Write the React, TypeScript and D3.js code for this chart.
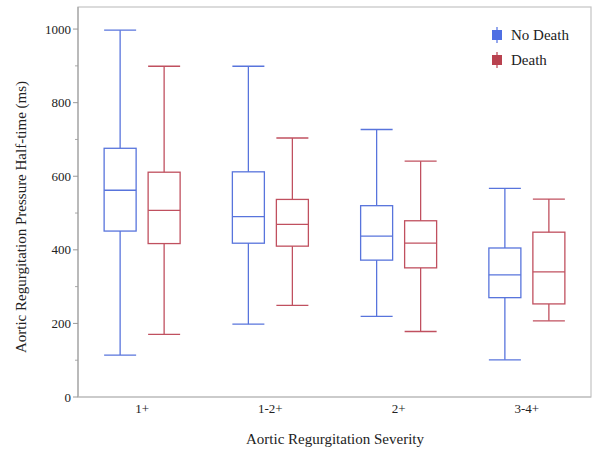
import React from "react";
import * as d3 from "d3";

const categories = ["1+", "1-2+", "2+", "3-4+"];
const seriesNames = ["No Death", "Death"];
// [min, q1, median, q3, max]
const noDeath = [
  [114, 451, 562, 676, 997],
  [198, 418, 490, 612, 899],
  [219, 372, 437, 520, 727],
  [101, 270, 332, 405, 567],
];
const death = [
  [170, 417, 507, 611, 899],
  [249, 410, 469, 537, 704],
  [178, 351, 418, 479, 641],
  [207, 253, 340, 448, 538],
];
const yTicks = [0, 200, 400, 600, 800, 1000];
const yMinorTicks = [100, 300, 500, 700, 900];

const colors = ["#5874dc", "#c0505f"];
const legendFill = ["#4f6fe3", "#b9424f"];

export default function App() {
  const W = 593, H = 455;
  const left = 78, right = 591, top = 7, bottom = 397;
  const x = d3.scaleBand().domain(categories).range([left, right]);
  const y = d3.scaleLinear().domain([0, 1060]).range([bottom, top]);
  const boxW = 32;
  const offset = 22;
  const font = "'Liberation Serif', 'DejaVu Serif', 'Times New Roman', Times, serif";
  const data = [noDeath, death];
  const ts = { fontFamily: font };

  return (
    <svg width={W} height={H} style={{ position: "absolute", left: 0, top: 0, background: "#fff", fontFamily: font }}>
      <rect x={left} y={top} width={right - left} height={bottom - top} fill="none" stroke="#c4c4c4" strokeWidth={1.2} />
      {yTicks.map((t) => (
        <g key={t}>
          <line x1={left - 5} x2={left} y1={y(t)} y2={y(t)} stroke="#999" />
          <text x={left - 7} y={y(t)} dy="0.35em" textAnchor="end" style={ts} fontSize={13} fill="#222">{t}</text>
        </g>
      ))}
      {yMinorTicks.map((t) => (
        <line key={t} x1={left - 3} x2={left} y1={y(t)} y2={y(t)} stroke="#aaa" />
      ))}
      <line x1={left} x2={left} y1={top} y2={bottom} stroke="#999" />
      <line x1={left} x2={right} y1={bottom} y2={bottom} stroke="#bbb" />
      {categories.map((c) => (
        <text key={c} x={(x(c) as number) + x.bandwidth() / 2} y={413} textAnchor="middle" style={ts} fontSize={13} fill="#222">{c}</text>
      ))}
      {data.map((series, si) =>
        series.map((v, ci) => {
          const cx = (x(categories[ci]) as number) + x.bandwidth() / 2 + (si === 0 ? -offset : offset);
          const [mn, q1, md, q3, mx] = v;
          const col = colors[si];
          return (
            <g key={`${si}-${ci}`} stroke={col} strokeWidth={1.3} fill="none">
              <line x1={cx} x2={cx} y1={y(mx)} y2={y(q3)} />
              <line x1={cx} x2={cx} y1={y(q1)} y2={y(mn)} />
              <line x1={cx - boxW / 2} x2={cx + boxW / 2} y1={y(mx)} y2={y(mx)} />
              <line x1={cx - boxW / 2} x2={cx + boxW / 2} y1={y(mn)} y2={y(mn)} />
              <rect x={cx - boxW / 2} y={y(q3)} width={boxW} height={y(q1) - y(q3)} />
              <line x1={cx - boxW / 2} x2={cx + boxW / 2} y1={y(md)} y2={y(md)} />
            </g>
          );
        })
      )}
      {seriesNames.map((s, i) => {
        const ly = 35 + i * 25;
        return (
          <g key={s}>
            <line x1={497} x2={497} y1={ly - 8} y2={ly + 8} stroke={legendFill[i]} strokeWidth={1.2} />
            <rect x={492} y={ly - 5} width={10} height={10} fill={legendFill[i]} />
            <text x={511} y={ly} dy="0.35em" style={ts} fontSize={15} fill="#222">{s}</text>
          </g>
        );
      })}
      <text transform={`translate(26, ${(top + bottom) / 2 + 15}) rotate(-90)`} textAnchor="middle" style={ts} fontSize={15} fill="#222">
        Aortic Regurgitation Pressure Half-time (ms)
      </text>
      <text x={335} y={444} textAnchor="middle" style={ts} fontSize={15} fill="#222">Aortic Regurgitation Severity</text>
    </svg>
  );
}
